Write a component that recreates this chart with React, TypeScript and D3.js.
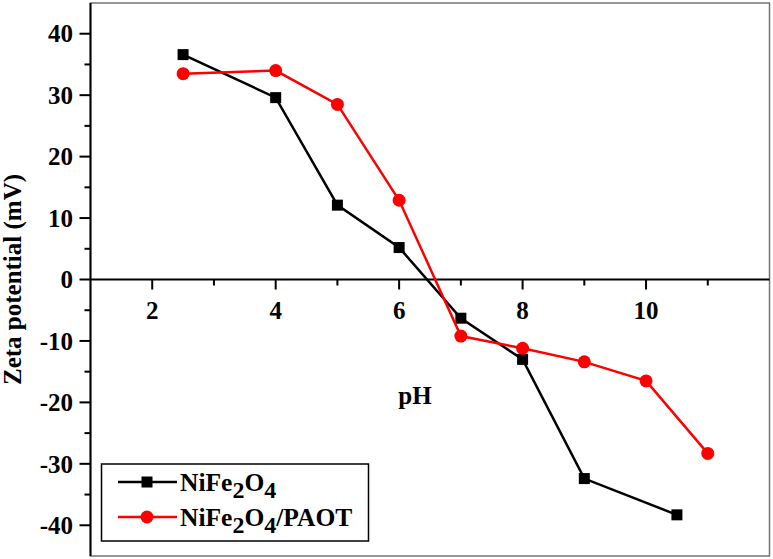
import React from 'react'
import * as d3 from 'd3'

const phBare = [2.5, 4, 5, 6, 7, 8, 9, 10.5]
const zetaBare = [36.6, 29.6, 12.1, 5.2, -6.3, -13.0, -32.4, -38.3]
const phCoated = [2.5, 4, 5, 6, 7, 8, 9, 10, 11]
const zetaCoated = [33.5, 34.0, 28.5, 12.9, -9.2, -11.2, -13.4, -16.5, -28.3]

const xMajor = [2, 4, 6, 8, 10]
const xMinor = [3, 5, 7, 9, 11]
const yMajor = [-40, -30, -20, -10, 0, 10, 20, 30, 40]
const yMinor = [-35, -25, -15, -5, 5, 15, 25, 35]

const FONT = '"Liberation Serif", "Times New Roman", serif'
const RED = '#ff0000'

export default function App() {
  const width = 773
  const height = 559

  const x = d3.scaleLinear().domain([1, 12]).range([90.5, 769.5])
  const y = d3.scaleLinear().domain([-45, 45]).range([556, 3])

  const line = d3.line<[number, number]>()
    .x((d) => x(d[0]))
    .y((d) => y(d[1]))

  const bare: [number, number][] = phBare.map((p, i) => [p, zetaBare[i]])
  const coated: [number, number][] = phCoated.map((p, i) => [p, zetaCoated[i]])

  const y0 = y(0)
  const left = x(1)

  return (
    <div style={{ position: 'fixed', left: 0, top: 0 }}>
      <svg width={width} height={height} style={{ display: 'block', background: '#fff' }}>
        {/* frame */}
        <rect x={x(1)} y={y(45)} width={x(12) - x(1)} height={y(-45) - y(45)}
          fill="none" stroke="#6f7478" strokeWidth={1.5} />
        <line x1={left} x2={left} y1={y(45)} y2={y(-45)} stroke="#000" strokeWidth={2} />

        {/* y ticks */}
        {yMajor.map((v) => (
          <g key={'ym' + v}>
            <line x1={left - 11} x2={left} y1={y(v)} y2={y(v)} stroke="#000" strokeWidth={2} />
            <text x={73} y={y(v)} dy="0.35em" textAnchor="end" fontFamily={FONT}
              fontWeight="bold" fontSize={25}>{v}</text>
          </g>
        ))}
        {yMinor.map((v) => (
          <line key={'yn' + v} x1={left - 6} x2={left} y1={y(v)} y2={y(v)} stroke="#000" strokeWidth={2} />
        ))}

        {/* x axis at zero */}
        <line x1={left} x2={x(12)} y1={y0} y2={y0} stroke="#000" strokeWidth={2} />
        {xMajor.map((v) => (
          <g key={'xm' + v}>
            <line x1={x(v)} x2={x(v)} y1={y0} y2={y0 + 10} stroke="#000" strokeWidth={2} />
            <text x={x(v)} y={y0 + 39} textAnchor="middle" fontFamily={FONT}
              fontWeight="bold" fontSize={25}>{v}</text>
          </g>
        ))}
        {xMinor.map((v) => (
          <line key={'xn' + v} x1={x(v)} x2={x(v)} y1={y0} y2={y0 + 6} stroke="#000" strokeWidth={2} />
        ))}

        {/* axis titles */}
        <text x={415} y={404} textAnchor="middle" fontFamily={FONT} fontWeight="bold" fontSize={25}>pH</text>
        <text transform={`translate(21, ${y0}) rotate(-90)`} textAnchor="middle" fontFamily={FONT}
          fontWeight="bold" fontSize={25}>Zeta potential (mV)</text>

        {/* series */}
        <path d={line(bare) || ''} fill="none" stroke="#000" strokeWidth={2.5} />
        {bare.map((d, i) => (
          <rect key={'b' + i} x={x(d[0]) - 5.5} y={y(d[1]) - 5.5} width={11} height={11} fill="#000" />
        ))}
        <path d={line(coated) || ''} fill="none" stroke={RED} strokeWidth={2.5} />
        {coated.map((d, i) => (
          <circle key={'r' + i} cx={x(d[0])} cy={y(d[1])} r={6.5} fill={RED} />
        ))}

        {/* legend */}
        <rect x={101.5} y={464} width={267} height={77} fill="#fff" stroke="#000" strokeWidth={1.5} />
        <line x1={118} x2={177} y1={482} y2={482} stroke="#000" strokeWidth={2.5} />
        <rect x={141.5} y={476.5} width={11} height={11} fill="#000" />
        <text x={180} y={482} dy="0.35em" fontFamily={FONT} fontWeight="bold" fontSize={25.5}>
          NiFe<tspan dy={7} fontSize={24}>2</tspan><tspan dy={-7}>O</tspan><tspan dy={7} fontSize={24}>4</tspan>
        </text>
        <line x1={118} x2={177} y1={517} y2={517} stroke={RED} strokeWidth={2.5} />
        <circle cx={147} cy={517} r={6.5} fill={RED} />
        <text x={180} y={517} dy="0.35em" fontFamily={FONT} fontWeight="bold" fontSize={25.5}>
          NiFe<tspan dy={7} fontSize={24}>2</tspan><tspan dy={-7}>O</tspan><tspan dy={7} fontSize={24}>4</tspan><tspan dy={-7}>/PAOT</tspan>
        </text>
      </svg>
    </div>
  )
}
